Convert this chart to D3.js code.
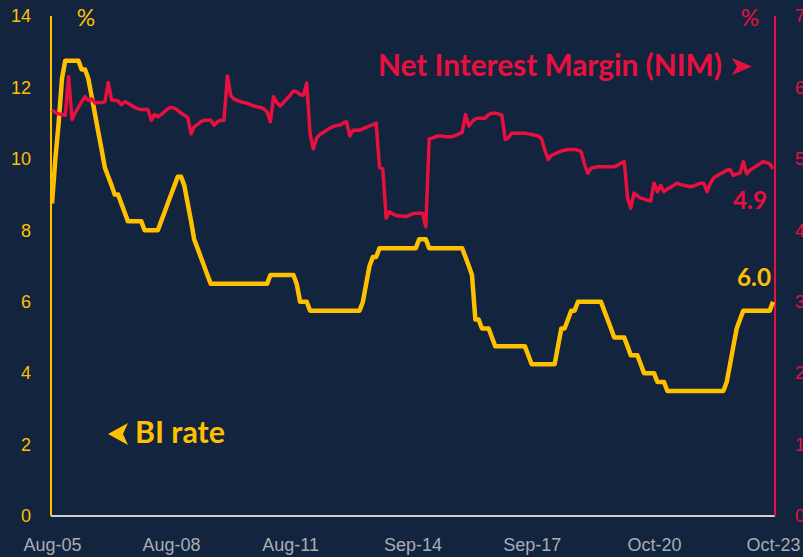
<!DOCTYPE html>
<html>
<head>
<meta charset="utf-8">
<script src="https://cdn.jsdelivr.net/npm/d3@7"></script>
<style>
  body { margin: 0; background: #12243e; }
  svg { display: block; font-family: Lato, 'Open Sans', sans-serif; }
</style>
</head>
<body>
<script>
// monthly series, Aug-05 .. Oct-23
const firstMonth = '2005-08'
const tickLabels = ['Aug-05', 'Aug-08', 'Aug-11', 'Sep-14', 'Sep-17', 'Oct-20', 'Oct-23']
const leftTicks = [0, 2, 4, 6, 8, 10, 12, 14]
const rightTicks = [0, 1, 2, 3, 4, 5, 6, 7]

const biRate = [
  8.75, 10.0, 11.0, 12.25, 12.75,
  12.75, 12.75, 12.75, 12.75, 12.5, 12.5, 12.25, 11.75, 11.25, 10.75, 10.25, 9.75,
  9.5, 9.25, 9.0, 9.0, 8.75, 8.5, 8.25, 8.25, 8.25, 8.25, 8.25, 8.0,
  8.0, 8.0, 8.0, 8.0, 8.25, 8.5, 8.75, 9.0, 9.25, 9.5, 9.5, 9.25,
  8.75, 8.25, 7.75, 7.5, 7.25, 7.0, 6.75, 6.5, 6.5, 6.5, 6.5, 6.5,
  6.5, 6.5, 6.5, 6.5, 6.5, 6.5, 6.5, 6.5, 6.5, 6.5, 6.5, 6.5,
  6.5, 6.75, 6.75, 6.75, 6.75, 6.75, 6.75, 6.75, 6.75, 6.5, 6.0, 6.0,
  6.0, 5.75, 5.75, 5.75, 5.75, 5.75, 5.75, 5.75, 5.75, 5.75, 5.75, 5.75,
  5.75, 5.75, 5.75, 5.75, 5.75, 6.0, 6.5, 7.0, 7.25, 7.25, 7.5, 7.5,
  7.5, 7.5, 7.5, 7.5, 7.5, 7.5, 7.5, 7.5, 7.5, 7.5, 7.75, 7.75,
  7.75, 7.5, 7.5, 7.5, 7.5, 7.5, 7.5, 7.5, 7.5, 7.5, 7.5, 7.5,
  7.25, 7.0, 6.75, 5.5, 5.5, 5.25, 5.25, 5.25, 5.0, 4.75, 4.75, 4.75,
  4.75, 4.75, 4.75, 4.75, 4.75, 4.75, 4.75, 4.5, 4.25, 4.25, 4.25, 4.25,
  4.25, 4.25, 4.25, 4.25, 4.75, 5.25, 5.25, 5.5, 5.75, 5.75, 6.0, 6.0,
  6.0, 6.0, 6.0, 6.0, 6.0, 6.0, 5.75, 5.5, 5.25, 5.0, 5.0, 5.0,
  5.0, 4.75, 4.5, 4.5, 4.5, 4.25, 4.0, 4.0, 4.0, 4.0, 3.75, 3.75,
  3.75, 3.5, 3.5, 3.5, 3.5, 3.5, 3.5, 3.5, 3.5, 3.5, 3.5, 3.5,
  3.5, 3.5, 3.5, 3.5, 3.5, 3.5, 3.5, 3.75, 4.25, 4.75, 5.25, 5.5,
  5.75, 5.75, 5.75, 5.75, 5.75, 5.75, 5.75, 5.75, 5.75, 6.0
]

const nim = [
  5.68, 5.65, 5.63, 5.62, 5.61,
  6.15, 5.55, 5.64, 5.72, 5.80, 5.87, 5.82, 5.84, 5.78, 5.79, 5.79, 5.80,
  6.07, 5.82, 5.82, 5.81, 5.76, 5.80, 5.78, 5.75, 5.72, 5.70, 5.69, 5.69,
  5.69, 5.54, 5.62, 5.59, 5.62, 5.66, 5.70, 5.72, 5.71, 5.68, 5.64, 5.61,
  5.58, 5.35, 5.45, 5.48, 5.52, 5.54, 5.54, 5.54, 5.47, 5.52, 5.54, 5.54,
  6.16, 5.89, 5.84, 5.82, 5.80, 5.79, 5.78, 5.76, 5.74, 5.73, 5.72, 5.70,
  5.66, 5.52, 5.87, 5.79, 5.74, 5.79, 5.84, 5.89, 5.95, 5.94, 5.90, 5.89,
  6.06, 5.35, 5.14, 5.29, 5.34, 5.37, 5.40, 5.43, 5.45, 5.47, 5.47, 5.50,
  5.52, 5.32, 5.40, 5.40, 5.40, 5.42, 5.44, 5.46, 5.48, 5.50, 4.88, 4.86,
  4.17, 4.26, 4.23, 4.21, 4.20, 4.20, 4.19, 4.21, 4.23, 4.24, 4.24, 4.24,
  4.05, 5.28, 5.29, 5.31, 5.32, 5.32, 5.31, 5.31, 5.31, 5.33, 5.35, 5.37,
  5.62, 5.46, 5.52, 5.56, 5.57, 5.57, 5.57, 5.62, 5.64, 5.64, 5.63, 5.61,
  5.27, 5.30, 5.36, 5.36, 5.36, 5.36, 5.36, 5.35, 5.34, 5.33, 5.32, 5.28,
  5.12, 4.99, 5.05, 5.07, 5.09, 5.11, 5.12, 5.13, 5.13, 5.13, 5.12, 5.10,
  4.92, 4.80, 4.87, 4.88, 4.89, 4.89, 4.89, 4.89, 4.89, 4.89, 4.91, 4.94,
  4.96, 4.45, 4.31, 4.52, 4.48, 4.45, 4.44, 4.42, 4.41, 4.66, 4.54, 4.63,
  4.54, 4.58, 4.60, 4.63, 4.66, 4.64, 4.63, 4.62, 4.61, 4.62, 4.64, 4.66,
  4.66, 4.54, 4.65, 4.73, 4.76, 4.79, 4.81, 4.84, 4.85, 4.77, 4.79, 4.80,
  4.96, 4.79, 4.84, 4.87, 4.90, 4.93, 4.96, 4.95, 4.93, 4.86
]

const width = 803
const height = 557
const gold = '#ffc000'
const red = '#e8103f'
const grey = '#a9adb4'

const start = d3.timeParse('%Y-%m')(firstMonth)
const months = biRate.map((d, i) => d3.timeMonth.offset(start, i))

const svg = d3.select('body').append('svg')
  .attr('width', width)
  .attr('height', height)

const x = d3.scaleTime()
  .domain([months[0], months[months.length - 1]])
  .range([52, 773])
const yL = d3.scaleLinear().domain([0, 14]).range([516, 16])
const yR = d3.scaleLinear().domain([0, 7]).range([516, 16])

// axes
const parseTick = d3.timeParse('%b-%y')
const xAxis = svg.append('g')
  .attr('transform', 'translate(0,516)')
  .call(d3.axisBottom(x)
    .tickValues(tickLabels.map(parseTick))
    .tickFormat(d3.timeFormat('%b-%y'))
    .tickSize(0)
    .tickPadding(22))
xAxis.select('.domain').remove()
xAxis.selectAll('text').attr('fill', grey).style('font-size', '18px')

const leftAxis = svg.append('g')
  .attr('transform', 'translate(51,0)')
  .call(d3.axisLeft(yL).tickValues(leftTicks).tickSize(0).tickPadding(20))
leftAxis.select('.domain').remove()
leftAxis.selectAll('text').attr('fill', gold).style('font-size', '18px')

// the right labels run off the edge, as in the original
const rightAxis = svg.append('g')
  .attr('transform', 'translate(775,0)')
  .call(d3.axisRight(yR).tickValues(rightTicks).tickSize(0).tickPadding(20))
rightAxis.select('.domain').remove()
rightAxis.selectAll('text').attr('fill', red).style('font-size', '18px')

// axis rules
svg.append('line')
  .attr('x1', 51).attr('x2', 775).attr('y1', 516).attr('y2', 516)
  .attr('stroke', '#d0d0d0').attr('stroke-width', 2)
svg.append('line')
  .attr('x1', 51).attr('x2', 51).attr('y1', 16).attr('y2', 516)
  .attr('stroke', gold).attr('stroke-width', 2)
svg.append('line')
  .attr('x1', 775).attr('x2', 775).attr('y1', 16).attr('y2', 516)
  .attr('stroke', red).attr('stroke-width', 2)

// series
const line = (scale) => d3.line()
  .x((d, i) => x(months[i]))
  .y(d => scale(d))

svg.append('path')
  .datum(biRate)
  .attr('fill', 'none')
  .attr('stroke', gold)
  .attr('stroke-width', 4.5)
  .attr('stroke-linejoin', 'round')
  .attr('d', line(yL))

svg.append('path')
  .datum(nim)
  .attr('fill', 'none')
  .attr('stroke', red)
  .attr('stroke-width', 3.5)
  .attr('stroke-linejoin', 'round')
  .attr('d', line(yR))

// labels
const label = (txt, px, py, color, size, anchor) => svg.append('text')
  .attr('x', px).attr('y', py)
  .attr('fill', color)
  .attr('text-anchor', anchor || 'start')
  .style('font-size', size + 'px')
  .style('font-weight', 700)
  .text(txt)

label('%', 86, 26, gold, 23, 'middle').style('font-weight', 400)
label('%', 750, 26, red, 23, 'middle').style('font-weight', 400)

const fit = (t, w) => {
  const len = t.node().getComputedTextLength()
  const fs = parseFloat(t.style('font-size'))
  t.style('font-size', (fs * w / len) + 'px')
}

fit(label('Net Interest Margin (NIM)', 378, 76, red, 24), 344)
svg.append('path')
  .attr('d', 'M732,58 L752,66.5 L732,75 L737,66.5 Z')
  .attr('fill', red)

fit(label('BI rate', 135, 443, gold, 24), 90)
svg.append('path')
  .attr('d', 'M108,434 L128,423 L123,434 L128,445 Z')
  .attr('fill', gold)

fit(label(nim[nim.length - 1].toFixed(1), 767, 209, red, 24, 'end'), 34)
fit(label(biRate[biRate.length - 1].toFixed(1), 771, 286, gold, 24, 'end'), 34)
</script>
</body>
</html>
